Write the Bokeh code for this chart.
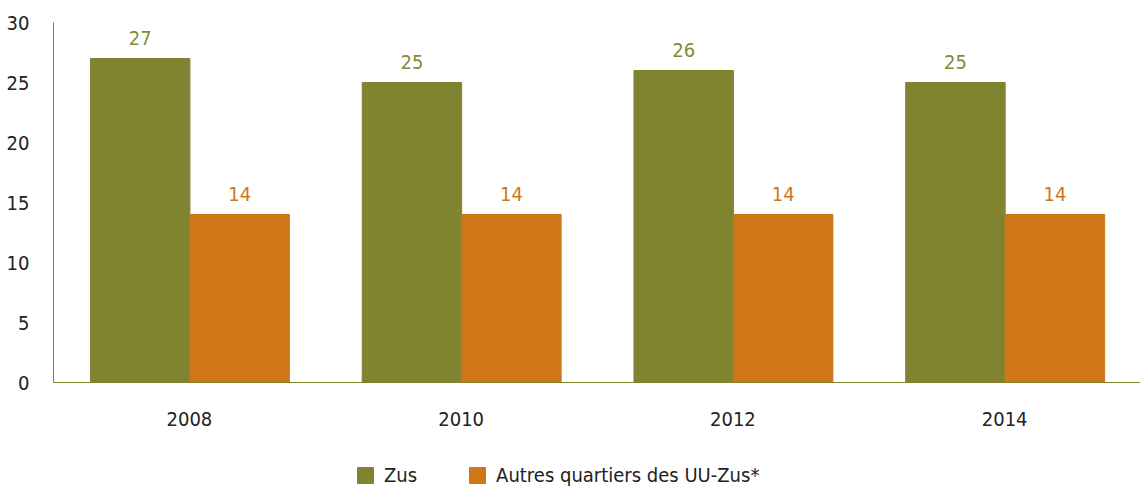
from bokeh.plotting import figure
from bokeh.models import ColumnDataSource, FactorRange, Range1d, Legend, LegendItem, LabelSet
from bokeh.layouts import column
from bokeh.transform import dodge
from bokeh.core.properties import value
from bokeh.embed import file_html
from bokeh.resources import INLINE

years = ["2008", "2010", "2012", "2014"]
zus = [27, 25, 26, 25]
autres = [14, 14, 14, 14]
series_names = ["Zus", "Autres quartiers des UU-Zus*"]
y_ticks = [0, 5, 10, 15, 20, 25, 30]

GREEN = "#808431"
ORANGE = "#CF7618"
FONT = "DejaVu Sans Condensed"
FS = "20px"

src = ColumnDataSource(dict(year=years, zus=zus, autres=autres,
                            zus_lbl=[str(v) for v in zus],
                            autres_lbl=[str(v) for v in autres]))

xr = FactorRange(*years, range_padding=0)
p = figure(width=1140, height=455, output_backend="svg", toolbar_location=None,
           x_range=xr, y_range=Range1d(0, 30),
           min_border_left=53, min_border_top=22, min_border_right=0, min_border_bottom=73)
p.outline_line_color = None
p.grid.grid_line_color = None

r1 = p.vbar(x=dodge("year", -0.181, range=xr), top="zus", width=0.366,
            source=src, fill_color=GREEN, line_color=GREEN)
r2 = p.vbar(x=dodge("year", 0.185, range=xr), top="autres", width=0.366,
            source=src, fill_color=ORANGE, line_color=ORANGE)

for col, lbl, off, colr in [("zus", "zus_lbl", -0.181, "#858a37"), ("autres", "autres_lbl", 0.185, ORANGE)]:
    ls = LabelSet(x=dodge("year", off, range=xr), y=col, text=lbl, source=src,
                  text_align="center", text_baseline="bottom", y_offset=14,
                  text_color=colr, text_font=value(FONT), text_font_size=value(FS))
    p.add_layout(ls)

p.yaxis.ticker = y_ticks
p.yaxis.axis_line_color = GREEN
p.yaxis.major_tick_line_color = None
p.yaxis.minor_tick_line_color = None
p.yaxis.major_label_text_font = FONT
p.yaxis.major_label_text_font_size = FS
p.yaxis.major_label_text_color = "#222222"
p.yaxis.major_label_standoff = 18

p.xaxis.axis_line_color = GREEN
p.xaxis.major_tick_line_color = None
p.xaxis.minor_tick_line_color = None
p.xaxis.major_label_text_font = FONT
p.xaxis.major_label_text_font_size = FS
p.xaxis.major_label_text_color = "#222222"
p.xaxis.major_label_standoff = 23

# legend strip (same bars, far outside its visible y-range so only the legend shows)
leg = figure(width=1140, height=32, output_backend="svg", toolbar_location=None,
             x_range=xr, y_range=Range1d(1000, 1001),
             min_border_left=53, min_border_right=0, min_border_top=0, min_border_bottom=0)
leg.axis.visible = False
leg.grid.visible = False
leg.outline_line_color = None
e1 = leg.vbar(x=dodge("year", -0.181, range=xr), top="zus", width=0.366,
              source=src, fill_color=GREEN, line_color=GREEN)
e2 = leg.vbar(x=dodge("year", 0.185, range=xr), top="autres", width=0.366,
              source=src, fill_color=ORANGE, line_color=ORANGE)
legend = Legend(items=[LegendItem(label=series_names[0], renderers=[e1], index=0),
                       LegendItem(label=series_names[1], renderers=[e2], index=0)],
                orientation="horizontal", location=(302, 0),
                label_text_font=FONT, label_text_font_size=FS, label_text_color="#222222",
                glyph_width=20, glyph_height=20, spacing=50, label_standoff=9,
                border_line_color=None, background_fill_alpha=0, margin=0, padding=0)
leg.add_layout(legend, "center")

layout = column(p, leg, spacing=0)
open("out.html", "w").write(file_html(layout, INLINE))
